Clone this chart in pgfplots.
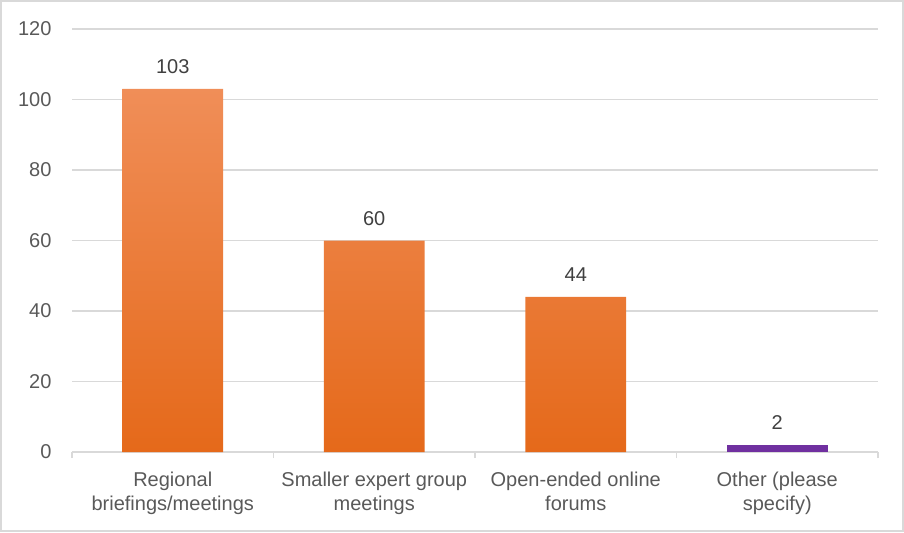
\documentclass[border=0pt]{standalone}
\usepackage{pgfplots}
\pgfplotsset{compat=1.18}
\usepackage{fontspec}
\setmainfont{Liberation Sans}
\definecolor{gridgray}{HTML}{D9D9D9}
\definecolor{labgray}{HTML}{595959}
\definecolor{valgray}{HTML}{404040}
\definecolor{otop}{HTML}{F08E58}
\definecolor{obot}{HTML}{E5691A}
\definecolor{purp}{HTML}{7030A0}
\begin{document}
\begin{tikzpicture}[x=1pt,y=1pt]
\fontsize{10}{12}\selectfont
\draw[gridgray, line width=0.8pt] (0.4,0.4) rectangle (451.6,265.6);
\begin{axis}[
  at={(36pt,40pt)}, anchor=south west,
  scale only axis, width=403pt, height=211.5pt,
  xmin=-0.5, xmax=3.5, ymin=0, ymax=120,
  ybar, bar width=0.5, bar shift=0pt,
  axis x line*=bottom, axis y line*=left,
  x axis line style={-, draw=gridgray, line width=0.8pt},
  y axis line style={draw=none},
  xtick={0,1,2,3},
  xticklabels={Regional\\briefings/meetings, Smaller expert group\\meetings, Open-ended online\\forums, Other (please\\specify)},
  xticklabel style={align=center, text=labgray, font=\fontsize{10}{12}\selectfont, yshift=-2pt},
  major x tick style={draw=none},
  minor xtick={-0.5,0.5,1.5,2.5,3.5},
  minor x tick style={draw=gridgray, line width=0.8pt},
  minor tick length=3pt,
  tick align=outside,
  ytick={0,20,...,120},
  major y tick style={draw=none},
  yticklabel style={text=labgray, font=\fontsize{10}{12}\selectfont, xshift=-2.5pt},
  /pgf/number format/assume math mode=true,
  ymajorgrids, grid style={gridgray, line width=0.8pt},
  nodes near coords,
  every node near coord/.append style={text=valgray, font=\fontsize{10}{12}\selectfont, yshift=4pt},
  clip=false,
]
\addplot[draw=none, top color=otop, bottom color=obot] coordinates {(0,103) (1,60) (2,44)};
\addplot[draw=none, fill=purp] coordinates {(3,2)};
\end{axis}
\end{tikzpicture}
\end{document}
